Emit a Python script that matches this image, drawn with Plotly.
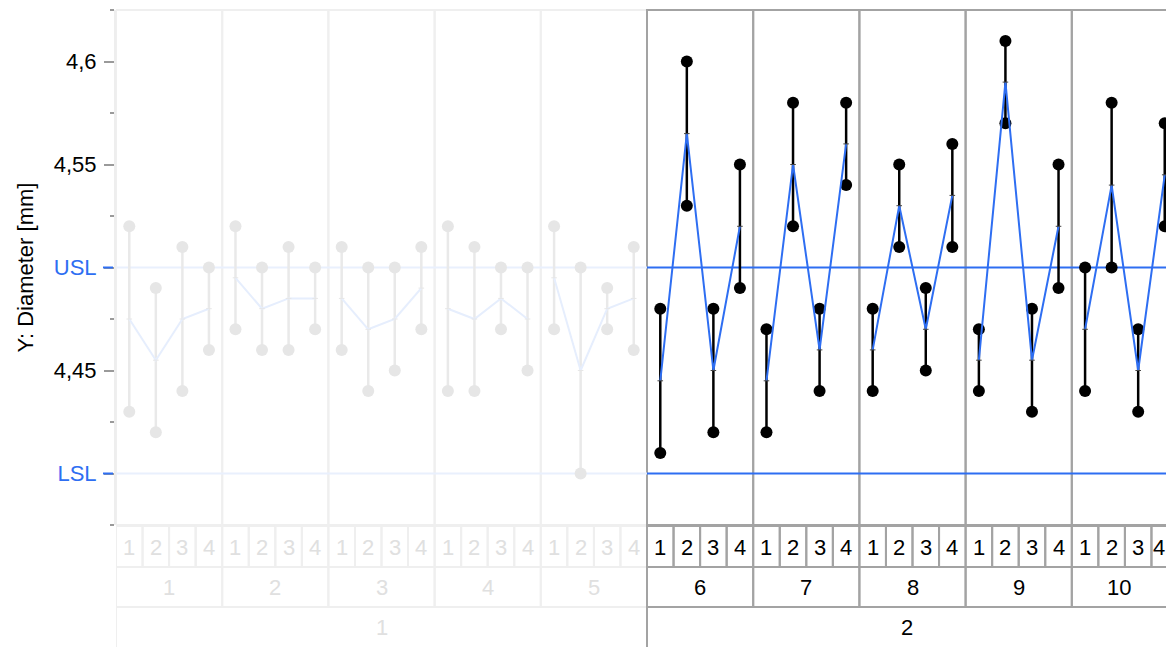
import plotly.graph_objects as go

# ---------------- data ----------------
group_labels = ["1", "2"]
subgroup_labels = ["1", "2", "3", "4", "5", "6", "7", "8", "9", "10"]
subgroup_group = [0, 0, 0, 0, 0, 1, 1, 1, 1, 1]
item_labels = ["1", "2", "3", "4"]
active_group = 1

max_vals = [
    4.52, 4.49, 4.51, 4.50,
    4.52, 4.50, 4.51, 4.50,
    4.51, 4.50, 4.50, 4.51,
    4.52, 4.51, 4.50, 4.50,
    4.52, 4.50, 4.49, 4.51,
    4.48, 4.60, 4.48, 4.55,
    4.47, 4.58, 4.48, 4.58,
    4.48, 4.55, 4.49, 4.56,
    4.47, 4.61, 4.48, 4.55,
    4.50, 4.58, 4.47, 4.57,
]
min_vals = [
    4.43, 4.42, 4.44, 4.46,
    4.47, 4.46, 4.46, 4.47,
    4.46, 4.44, 4.45, 4.47,
    4.44, 4.44, 4.47, 4.45,
    4.47, 4.40, 4.47, 4.46,
    4.41, 4.53, 4.42, 4.49,
    4.42, 4.52, 4.44, 4.54,
    4.44, 4.51, 4.45, 4.51,
    4.44, 4.57, 4.43, 4.49,
    4.44, 4.50, 4.43, 4.52,
]
mean_vals = [
    4.475, 4.455, 4.475, 4.48,
    4.495, 4.48, 4.485, 4.485,
    4.485, 4.47, 4.475, 4.49,
    4.48, 4.475, 4.485, 4.475,
    4.495, 4.45, 4.48, 4.485,
    4.445, 4.565, 4.45, 4.52,
    4.445, 4.55, 4.46, 4.56,
    4.46, 4.53, 4.47, 4.535,
    4.455, 4.59, 4.455, 4.52,
    4.47, 4.54, 4.45, 4.545,
]
USL = 4.5
LSL = 4.4
y_ticks = [4.4, 4.45, 4.5, 4.55, 4.6]
y_tick_text = ["LSL", "4,45", "USL", "4,55", "4,6"]
y_minor_ticks = [4.375, 4.425, 4.475, 4.525, 4.575, 4.625]
y_range = [4.375, 4.625]
y_title = "Y: Diameter [mm]"

# ---------------- styling ----------------
W, H = 1166, 647
ML, MR, MT, MB = 116, 0, 10, 122
PH = H - MT - MB
BLUE = "#2e6ef2"
FONT = "Liberation Sans, Arial, sans-serif"
FS = 22
styles = {
    False: dict(marker="#e6e6e6", stem="#e9e9e9", mean="#e6eefd", spec="#e9f0fd",
                border="#efefef", text="#e0e0e0", tick="#e6e6e6"),
    True: dict(marker="#000000", stem="#000000", mean=BLUE, spec=BLUE,
               border="#a3a3a3", text="#000000", tick="#444444"),
}

n_items = len(item_labels)
n_sub = len(subgroup_labels)
x_max = -0.5 + (W - ML - MR) / 26.55
x_range = [-0.5, x_max]


def py(p):
    """pixel row -> paper y"""
    return (H - MB - p) / PH


fig = go.Figure()

# data traces per group
for g in range(len(group_labels)):
    st = styles[g == active_group]
    sx, sy, mx, my, ex, ey = [], [], [], [], [], []
    for s in range(n_sub):
        if subgroup_group[s] != g:
            continue
        for i in range(n_items):
            k = s * n_items + i
            sx += [k, k, None]
            sy += [min_vals[k], max_vals[k], None]
            mx += [k, k]
            my += [min_vals[k], max_vals[k]]
            ex.append(k)
            ey.append(mean_vals[k])
        ex.append(None)
        ey.append(None)
    fig.add_trace(go.Scatter(x=sx, y=sy, mode="lines",
                             line=dict(color=st["stem"], width=2.5),
                             hoverinfo="skip", showlegend=False))
    fig.add_trace(go.Scatter(x=mx, y=my, mode="markers",
                             marker=dict(color=st["marker"], size=12),
                             showlegend=False))
    fig.add_trace(go.Scatter(x=ex, y=ey, mode="lines+markers",
                             line=dict(color=st["mean"], width=2),
                             marker=dict(symbol="line-ew", size=4,
                                         line=dict(color=st["tick"], width=1)),
                             connectgaps=False, showlegend=False))

shapes = []
annotations = []


def label(x, y, text, color):
    return dict(x=x, y=y, xref="x", yref="paper", text=text, showarrow=False,
                xanchor="center", yanchor="middle",
                font=dict(size=FS, color=color, family=FONT))


# draw faded group first, active group on top
for g in sorted(range(len(group_labels)), key=lambda q: q == active_group):
    st = styles[g == active_group]
    g_subs = [s for s in range(n_sub) if subgroup_group[s] == g]
    gx0 = g_subs[0] * n_items - 0.5
    gx1 = (g_subs[-1] + 1) * n_items - 0.5
    # spec limit lines for this group's span
    for v in (USL, LSL):
        shapes.append(dict(type="line", xref="x", yref="y", x0=gx0, x1=gx1, y0=v, y1=v,
                           line=dict(color=st["spec"], width=2), layer="below"))
    for s in g_subs:
        x0 = s * n_items - 0.5
        x1 = x0 + n_items
        # plot frame for the subgroup
        shapes.append(dict(type="rect", xref="x", yref="paper", x0=x0, x1=x1, y0=0, y1=1,
                           line=dict(color=st["border"], width=2), layer="below"))
        # item cells
        for i in range(n_items):
            k = s * n_items + i
            shapes.append(dict(type="rect", xref="x", yref="paper", x0=k - 0.5, x1=k + 0.5,
                               y0=py(567), y1=py(526),
                               line=dict(color=st["border"], width=2), layer="below"))
            cx = (k - 0.5 + min(k + 0.5, x_max)) / 2
            annotations.append(label(cx, py(547), item_labels[i], st["text"]))
        # subgroup cell
        shapes.append(dict(type="rect", xref="x", yref="paper", x0=x0, x1=x1,
                           y0=py(607), y1=py(567),
                           line=dict(color=st["border"], width=2), layer="below"))
        cx = (x0 + min(x1, x_max)) / 2
        annotations.append(label(cx, py(587), subgroup_labels[s], st["text"]))
    # group cell
    shapes.append(dict(type="rect", xref="x", yref="paper", x0=gx0, x1=gx1,
                       y0=py(680), y1=py(607),
                       line=dict(color=st["border"], width=2), layer="below"))
    cx = (gx0 + min(gx1, x_max)) / 2
    annotations.append(label(cx, py(627), group_labels[g], st["text"]))

# blue ticks for spec limits on y axis
for v in (USL, LSL):
    shapes.append(dict(type="line", xref="paper", yref="y", x0=-13 / (W - ML - MR), x1=-3 / (W - ML - MR),
                       y0=v, y1=v, line=dict(color=BLUE, width=2)))

annotations.append(dict(x=-(ML - 25) / (W - ML - MR), y=0.5, xref="paper", yref="paper",
                        text=y_title, textangle=-90, showarrow=False,
                        xanchor="center", yanchor="middle",
                        font=dict(size=FS, color="#000000", family=FONT)))

tick_text = [f'<span style="color:{BLUE}">{t}</span>' if v in (USL, LSL) else t
             for v, t in zip(y_ticks, y_tick_text)]

fig.update_layout(
    width=W, height=H,
    margin=dict(l=ML, r=MR, t=MT, b=MB, pad=0),
    paper_bgcolor="white",
    plot_bgcolor="rgba(0,0,0,0)",
    shapes=shapes,
    annotations=annotations,
    showlegend=False,
    xaxis=dict(range=x_range, showgrid=False, zeroline=False, showticklabels=False,
               ticks="", showline=False, fixedrange=True),
    yaxis=dict(range=y_range, showgrid=False, zeroline=False,
               tickmode="array", tickvals=y_ticks, ticktext=tick_text,
               ticks="outside", ticklen=10, tickwidth=2, tickcolor="#9a9a9a",
               ticklabelstandoff=3,
               showline=True, linecolor="#eeeeee", linewidth=2,
               tickfont=dict(size=FS, color="#000000", family=FONT),
               minor=dict(tickmode="array", tickvals=y_minor_ticks, ticks="outside",
                          ticklen=4, tickwidth=2, tickcolor="#9a9a9a"),
               fixedrange=True),
    font=dict(family=FONT),
)

fig.write_html("out.html", config={"displayModeBar": False},
               post_script="document.body.style.margin='0';")
